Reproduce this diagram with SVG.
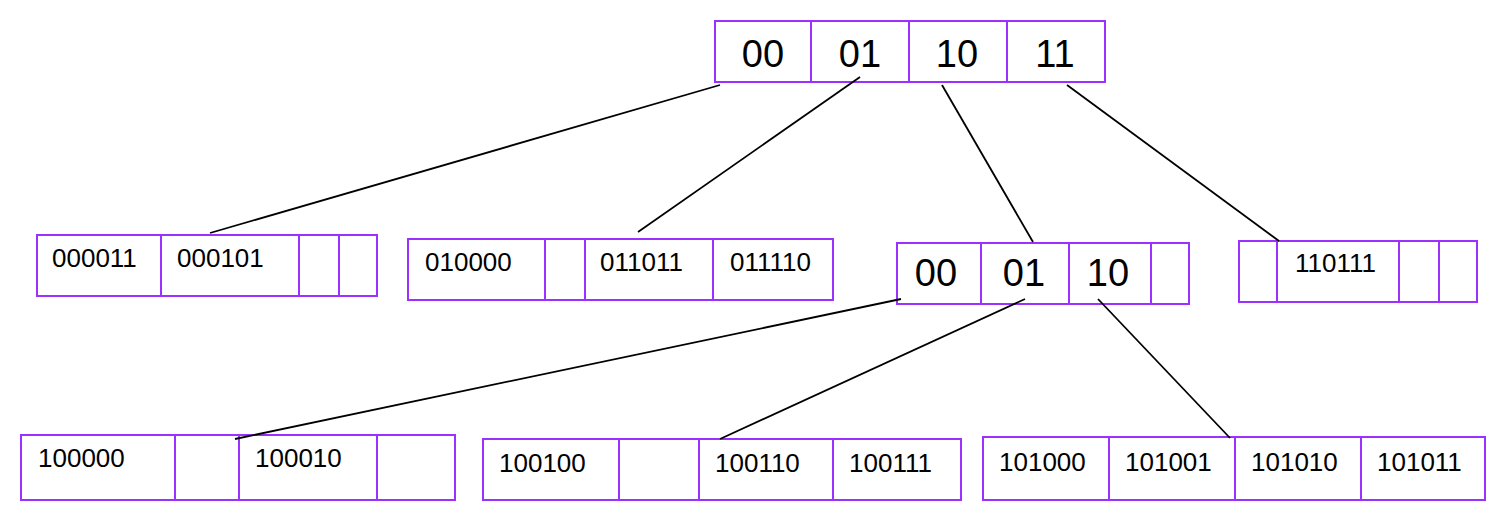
<svg xmlns="http://www.w3.org/2000/svg" width="1498" height="520" viewBox="0 0 1498 520">
<style>
.box{fill:#fff;stroke:#9b30ff;stroke-width:2}
.div{stroke:#9b30ff;stroke-width:2}
.big{font-family:"Liberation Sans",Arial,sans-serif;font-size:38px;fill:#000;text-anchor:middle}
.sm{font-family:"Liberation Sans",Arial,sans-serif;font-size:26px;fill:#000}
.edge{stroke:#000;stroke-width:1.8;fill:none}
</style>
<rect width="1498" height="520" fill="#fff"/>
<g id="root">
<rect class="box" x="715" y="21" width="390" height="61"/>
<line class="div" x1="811" y1="21" x2="811" y2="82"/>
<line class="div" x1="909" y1="21" x2="909" y2="82"/>
<line class="div" x1="1007" y1="21" x2="1007" y2="82"/>
<text class="big" x="763" y="67">00</text>
<text class="big" x="860" y="67">01</text>
<text class="big" x="957" y="67">10</text>
<text class="big" x="1055" y="67">11</text>
</g>
<g id="bucket00">
<rect class="box" x="37" y="235" width="340" height="61"/>
<line class="div" x1="161" y1="235" x2="161" y2="296"/>
<line class="div" x1="299" y1="235" x2="299" y2="296"/>
<line class="div" x1="339" y1="235" x2="339" y2="296"/>
<text class="sm" x="52" y="267">000011</text>
<text class="sm" x="177" y="267">000101</text>
</g>
<g id="bucket01">
<rect class="box" x="408" y="239" width="425" height="61"/>
<line class="div" x1="545" y1="239" x2="545" y2="300"/>
<line class="div" x1="585" y1="239" x2="585" y2="300"/>
<line class="div" x1="713" y1="239" x2="713" y2="300"/>
<text class="sm" x="425" y="271">010000</text>
<text class="sm" x="600" y="271">011011</text>
<text class="sm" x="730" y="271">011110</text>
</g>
<g id="dir10">
<rect class="box" x="897" y="243" width="292" height="61"/>
<line class="div" x1="981" y1="243" x2="981" y2="304"/>
<line class="div" x1="1069" y1="243" x2="1069" y2="304"/>
<line class="div" x1="1151" y1="243" x2="1151" y2="304"/>
<text class="big" x="936" y="286">00</text>
<text class="big" x="1024" y="286">01</text>
<text class="big" x="1108" y="286">10</text>
</g>
<g id="bucket11">
<rect class="box" x="1239" y="241" width="238" height="61"/>
<line class="div" x1="1277" y1="241" x2="1277" y2="302"/>
<line class="div" x1="1399" y1="241" x2="1399" y2="302"/>
<line class="div" x1="1439" y1="241" x2="1439" y2="302"/>
<text class="sm" x="1295" y="272">110111</text>
</g>
<g id="bucket1000">
<rect class="box" x="21" y="435" width="434" height="65"/>
<line class="div" x1="175" y1="435" x2="175" y2="500"/>
<line class="div" x1="239" y1="435" x2="239" y2="500"/>
<line class="div" x1="377" y1="435" x2="377" y2="500"/>
<text class="sm" x="38" y="467">100000</text>
<text class="sm" x="255" y="467">100010</text>
</g>
<g id="bucket1001">
<rect class="box" x="483" y="439" width="478" height="61"/>
<line class="div" x1="619" y1="439" x2="619" y2="500"/>
<line class="div" x1="699" y1="439" x2="699" y2="500"/>
<line class="div" x1="833" y1="439" x2="833" y2="500"/>
<text class="sm" x="499" y="472">100100</text>
<text class="sm" x="715" y="472">100110</text>
<text class="sm" x="849" y="472">100111</text>
</g>
<g id="bucket1010">
<rect class="box" x="983" y="437" width="502" height="63"/>
<line class="div" x1="1109" y1="437" x2="1109" y2="500"/>
<line class="div" x1="1235" y1="437" x2="1235" y2="500"/>
<line class="div" x1="1361" y1="437" x2="1361" y2="500"/>
<text class="sm" x="999" y="471">101000</text>
<text class="sm" x="1125" y="471">101001</text>
<text class="sm" x="1251" y="471">101010</text>
<text class="sm" x="1377" y="471">101011</text>
</g>
<g id="connectors">
<line class="edge" x1="720" y1="85" x2="210" y2="233"/>
<line class="edge" x1="860" y1="77" x2="638" y2="232"/>
<line class="edge" x1="942" y1="85" x2="1033" y2="242"/>
<line class="edge" x1="1067" y1="85" x2="1279" y2="241"/>
<line class="edge" x1="901" y1="299" x2="235" y2="439"/>
<line class="edge" x1="1025" y1="299" x2="720" y2="439"/>
<line class="edge" x1="1098" y1="299" x2="1230" y2="438"/>
</g>
</svg>
